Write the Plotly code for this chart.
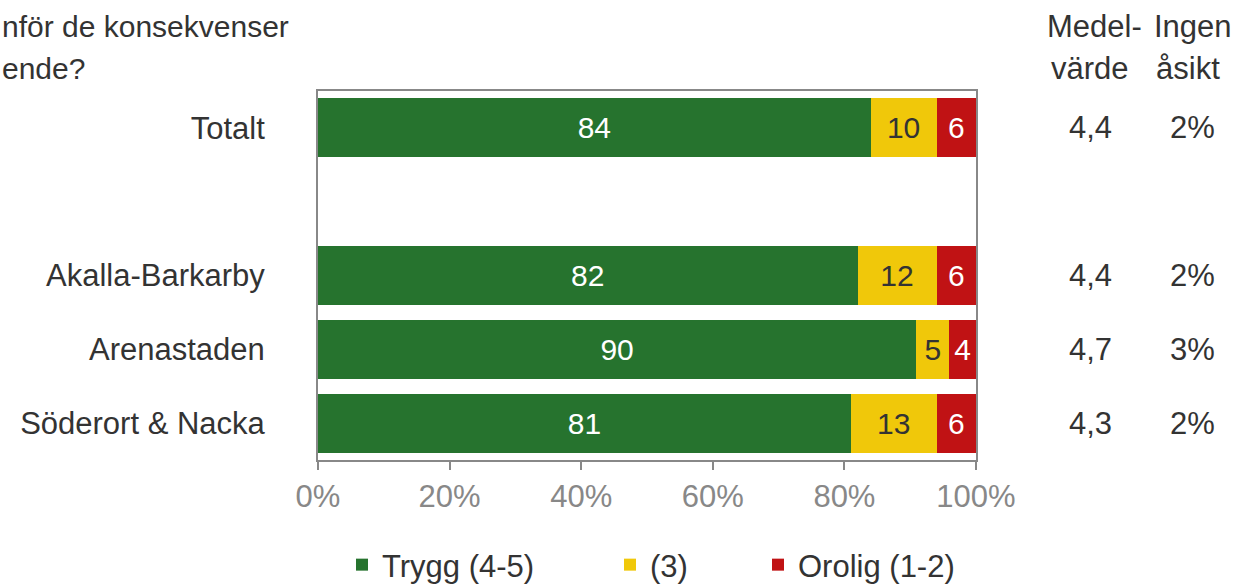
import plotly.graph_objects as go

categories = ["Totalt", " ", "Akalla-Barkarby", "Arenastaden", "Söderort & Nacka"]
trygg = [84, None, 82, 90, 81]
neutral = [10, None, 12, 5, 13]
orolig = [6, None, 6, 4, 6]
medelvarde = ["4,4", "", "4,4", "4,7", "4,3"]
ingen_asikt = ["2%", "", "2%", "3%", "2%"]
series_names = ["Trygg (4-5)", "(3)", "Orolig (1-2)"]
x_ticks = [0, 20, 40, 60, 80, 100]
x_ticktext = ["0%", "20%", "40%", "60%", "80%", "100%"]

GREEN = "#26732E"
YELLOW = "#F0C80A"
RED = "#C01214"
DARK = "#333333"
GRAY = "#888888"
FONT = "Liberation Sans, Arial, sans-serif"
FS = 30      # bar labels
FS2 = 31     # other text
FSL = 31     # legend

W, H = 1235, 587
L, T = 318, 91
PW, PH = 658, 369
R, B = W - L - PW, H - T - PH

def px_x(px):
    return (px - L) / PW

def px_y(py):
    return (T + PH - py) / PH

def cont_y(py):
    return (H - py) / H

fig = go.Figure()
series = [(trygg, GREEN, "white", "legend"),
          (neutral, YELLOW, DARK, "legend2"),
          (orolig, RED, "white", "legend3")]
for name, (vals, col, tcol, lg) in zip(series_names, series):
    fig.add_trace(go.Bar(
        y=categories, x=vals, name=name, orientation="h",
        marker=dict(color=col, line=dict(width=0)),
        text=[("" if v is None else str(v)) for v in vals],
        texttemplate="%{text}", textposition="inside",
        insidetextanchor="middle", constraintext="none",
        textfont=dict(color=tcol, size=FS, family=FONT),
        legend=lg, hoverinfo="skip",
    ))

annotations = []
for cat, m, ia in zip(categories, medelvarde, ingen_asikt):
    if m:
        annotations.append(dict(x=px_x(1090), y=cat, xref="paper", yref="y", text=m,
                                showarrow=False, xanchor="center", yanchor="middle",
                                font=dict(size=FS2, color=DARK, family=FONT)))
    if ia:
        annotations.append(dict(x=px_x(1192), y=cat, xref="paper", yref="y", text=ia,
                                showarrow=False, xanchor="center", yanchor="middle",
                                font=dict(size=FS2, color=DARK, family=FONT)))
headers = [("Medel-", 1094, 27), ("värde", 1090, 68), ("Ingen", 1193, 27), ("åsikt", 1188, 68)]
for txt, xx, yy in headers:
    annotations.append(dict(x=px_x(xx), y=px_y(yy), xref="paper", yref="paper", text=txt,
                            showarrow=False, xanchor="center", yanchor="middle",
                            font=dict(size=FS2, color=DARK, family=FONT)))
for txt, yy in [("nför de konsekvenser", 27), ("ende?", 68)]:
    annotations.append(dict(x=px_x(0), y=px_y(yy), xref="paper", yref="paper", text=txt,
                            showarrow=False, xanchor="left", yanchor="middle",
                            font=dict(size=30, color=DARK, family=FONT)))

legend_common = dict(orientation="h", yanchor="middle", xanchor="left", yref="container",
                     font=dict(size=FSL, color=DARK, family=FONT),
                     bgcolor="rgba(0,0,0,0)", itemclick=False, itemdoubleclick=False)

fig.update_layout(
    width=W, height=H,
    margin=dict(l=L, r=R, t=T, b=B, autoexpand=False),
    barmode="stack", barnorm="percent", bargap=0.2,
    plot_bgcolor="white", paper_bgcolor="white",
    font=dict(family=FONT, size=FS2, color=DARK),
    xaxis=dict(range=[0, 100], tickvals=x_ticks, ticktext=x_ticktext,
               showgrid=False, zeroline=False, automargin=False,
               showline=True, linecolor=GRAY, linewidth=2, mirror=True,
               ticks="outside", ticklen=8, tickcolor=GRAY, tickwidth=2,
               tickfont=dict(size=FS2, color=GRAY, family=FONT)),
    yaxis=dict(type="category", categoryorder="array", categoryarray=categories,
               range=[len(categories) - 0.5, -0.5],
               showgrid=False, zeroline=False, automargin=False,
               showline=True, linecolor=GRAY, linewidth=2, mirror=True,
               ticks="", ticklabelstandoff=45,
               tickfont=dict(size=FS2, color=DARK, family=FONT)),
    legend=dict(x=px_x(342), y=cont_y(565), **legend_common),
    legend2=dict(x=px_x(610), y=cont_y(565), **legend_common),
    legend3=dict(x=px_x(758), y=cont_y(565), **legend_common),
    annotations=annotations,
    showlegend=True,
)

fig.write_html("out.html", config={"displayModeBar": False},
               post_script="document.body.style.margin='0px';")
